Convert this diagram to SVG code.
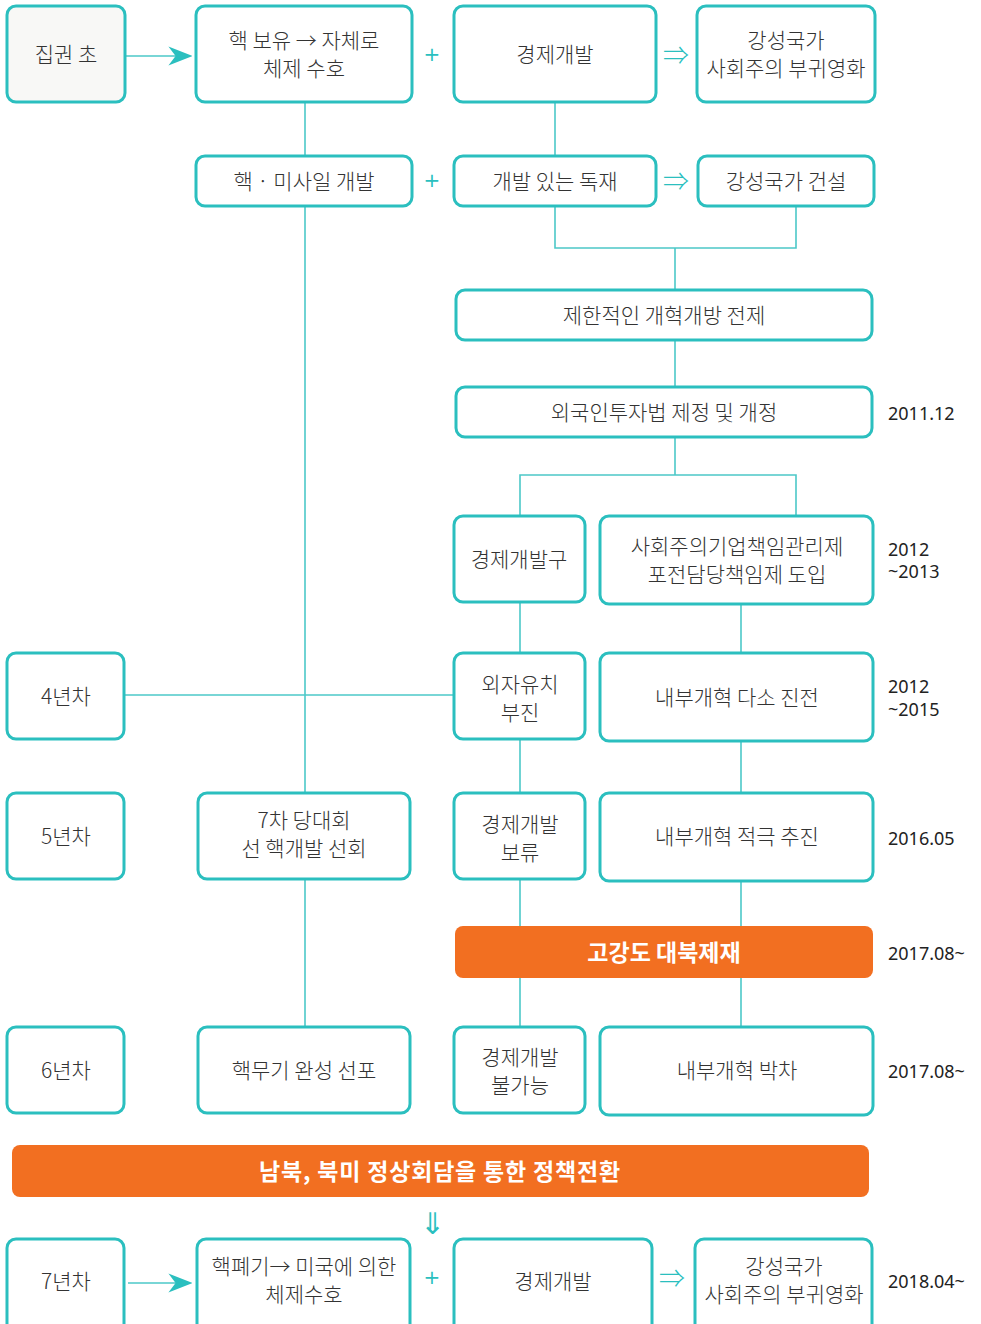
<svg xmlns="http://www.w3.org/2000/svg" width="981" height="1324" viewBox="0 0 981 1324">
<style>
.n{fill:#fff;stroke:#2bbfbf;stroke-width:3}
.o{fill:#f26f21}
.t{font-family:"Noto Sans CJK KR","Noto Sans",sans-serif;font-size:21px;font-weight:300;fill:#333;text-anchor:middle;dominant-baseline:central}
.w{font-family:"Noto Sans CJK KR","Noto Sans",sans-serif;font-size:23px;font-weight:bold;fill:#fff;text-anchor:middle;dominant-baseline:central}
.d{font-family:"Noto Sans","DejaVu Sans",sans-serif;font-size:18px;fill:#222;dominant-baseline:central}
.s{font-family:"DejaVu Sans",sans-serif;font-size:20px;fill:#2bbfbf;text-anchor:middle;dominant-baseline:central}
.a{font-family:"Noto Sans CJK KR","DejaVu Sans",sans-serif;font-size:26px;font-weight:300;fill:#2bbfbf;text-anchor:middle;dominant-baseline:central}
.c{stroke:#4cc8c8;stroke-width:1.6;fill:none}
</style>
<defs>
<marker id="ah" viewBox="0 0 10 10" refX="9" refY="5" markerWidth="24" markerHeight="24" markerUnits="userSpaceOnUse" orient="auto">
<path d="M0,1 L10,5 L0,9 L3,5 Z" fill="#2bbfbf"/>
</marker>
</defs>
<g id="connectors">
<line class="c" x1="125" y1="56" x2="190" y2="56" marker-end="url(#ah)"/>
<line class="c" x1="305" y1="102" x2="305" y2="155"/>
<line class="c" x1="555" y1="102" x2="555" y2="155"/>
<polyline class="c" points="555,206 555,248 796,248 796,206"/>
<line class="c" x1="675" y1="248" x2="675" y2="290"/>
<line class="c" x1="675" y1="340" x2="675" y2="387"/>
<line class="c" x1="675" y1="437" x2="675" y2="475"/>
<polyline class="c" points="520,516 520,475 796,475 796,516"/>
<line class="c" x1="520" y1="602" x2="520" y2="653"/>
<line class="c" x1="741" y1="604" x2="741" y2="653"/>
<line class="c" x1="305" y1="206" x2="305" y2="793"/>
<line class="c" x1="124" y1="695" x2="454" y2="695"/>
<line class="c" x1="520" y1="739" x2="520" y2="793"/>
<line class="c" x1="741" y1="741" x2="741" y2="793"/>
<line class="c" x1="520" y1="879" x2="520" y2="926"/>
<line class="c" x1="741" y1="881" x2="741" y2="926"/>
<line class="c" x1="520" y1="978" x2="520" y2="1027"/>
<line class="c" x1="741" y1="978" x2="741" y2="1027"/>
<line class="c" x1="305" y1="879" x2="305" y2="1027"/>
<line class="c" x1="128" y1="1283" x2="190" y2="1283" marker-end="url(#ah)"/>
</g>
<g id="symbols">
<text class="s" x="432" y="54">+</text>
<text class="s" x="432" y="180">+</text>
<text class="s" x="432" y="1277">+</text>
<text class="a" x="676" y="53">⇒</text>
<text class="a" x="676" y="179">⇒</text>
<text class="a" x="672" y="1276">⇒</text>
<text class="a" x="432" y="1221" style="font-size:30px">⇓</text>
</g>
<g id="n1"><rect x="7" y="6" width="118" height="96" rx="9" class="n" style="fill:#f8f8f6"/><text class="t" x="66" y="53">집권 초</text></g>
<g id="n2"><rect x="196" y="6" width="216" height="96" rx="9" class="n"/><text class="t" x="304" y="39">핵 보유 → 자체로</text><text class="t" x="304" y="67">체제 수호</text></g>
<g id="n3"><rect x="454" y="6" width="202" height="96" rx="9" class="n"/><text class="t" x="555" y="53">경제개발</text></g>
<g id="n4"><rect x="697" y="6" width="178" height="96" rx="9" class="n"/><text class="t" x="786" y="39">강성국가</text><text class="t" x="786" y="67">사회주의 부귀영화</text></g>
<g id="n5"><rect x="196" y="156" width="216" height="50" rx="9" class="n"/><text class="t" x="304" y="180">핵 · 미사일 개발</text></g>
<g id="n6"><rect x="454" y="156" width="202" height="50" rx="9" class="n"/><text class="t" x="555" y="180">개발 있는 독재</text></g>
<g id="n7"><rect x="698" y="156" width="176" height="50" rx="9" class="n"/><text class="t" x="786" y="180">강성국가 건설</text></g>
<g id="n8"><rect x="456" y="290" width="416" height="50" rx="9" class="n"/><text class="t" x="664" y="314">제한적인 개혁개방 전제</text></g>
<g id="n9"><rect x="456" y="387" width="416" height="50" rx="9" class="n"/><text class="t" x="664" y="411">외국인투자법 제정 및 개정</text><text class="d" x="888" y="413">2011.12</text></g>
<g id="n10"><rect x="454" y="516" width="131" height="86" rx="9" class="n"/><text class="t" x="519" y="558">경제개발구</text></g>
<g id="n11"><rect x="600" y="516" width="273" height="88" rx="9" class="n"/><text class="t" x="737" y="545">사회주의기업책임관리제</text><text class="t" x="737" y="573">포전담당책임제 도입</text><text class="d" x="888" y="549">2012</text><text class="d" x="888" y="571">~2013</text></g>
<g id="n12"><rect x="7" y="653" width="117" height="86" rx="9" class="n"/><text class="t" x="66" y="695">4년차</text></g>
<g id="n13"><rect x="454" y="653" width="131" height="86" rx="9" class="n"/><text class="t" x="520" y="683">외자유치</text><text class="t" x="520" y="711">부진</text></g>
<g id="n14"><rect x="600" y="653" width="273" height="88" rx="9" class="n"/><text class="t" x="737" y="696">내부개혁 다소 진전</text><text class="d" x="888" y="686">2012</text><text class="d" x="888" y="709">~2015</text></g>
<g id="n15"><rect x="7" y="793" width="117" height="86" rx="9" class="n"/><text class="t" x="66" y="835">5년차</text></g>
<g id="n16"><rect x="198" y="793" width="212" height="86" rx="9" class="n"/><text class="t" x="304" y="819">7차 당대회</text><text class="t" x="304" y="847">선 핵개발 선회</text></g>
<g id="n17"><rect x="454" y="793" width="131" height="86" rx="9" class="n"/><text class="t" x="520" y="823">경제개발</text><text class="t" x="520" y="851">보류</text></g>
<g id="n18"><rect x="600" y="793" width="273" height="88" rx="9" class="n"/><text class="t" x="737" y="835">내부개혁 적극 추진</text><text class="d" x="888" y="838">2016.05</text></g>
<g id="n19"><rect x="455" y="926" width="418" height="52" rx="8" class="o"/><text class="w" x="664" y="951">고강도 대북제재</text><text class="d" x="888" y="953">2017.08~</text></g>
<g id="n20"><rect x="7" y="1027" width="117" height="86" rx="9" class="n"/><text class="t" x="66" y="1069">6년차</text></g>
<g id="n21"><rect x="198" y="1027" width="212" height="86" rx="9" class="n"/><text class="t" x="304" y="1069">핵무기 완성 선포</text></g>
<g id="n22"><rect x="454" y="1027" width="131" height="86" rx="9" class="n"/><text class="t" x="520" y="1056">경제개발</text><text class="t" x="520" y="1084">불가능</text></g>
<g id="n23"><rect x="600" y="1027" width="273" height="88" rx="9" class="n"/><text class="t" x="737" y="1069">내부개혁 박차</text><text class="d" x="888" y="1071">2017.08~</text></g>
<g id="n24"><rect x="12" y="1145" width="857" height="52" rx="8" class="o"/><text class="w" x="440" y="1170" style="letter-spacing:0.8px">남북, 북미 정상회담을 통한 정책전환</text></g>
<g id="n25"><rect x="7" y="1239" width="117" height="100" rx="9" class="n"/><text class="t" x="66" y="1280">7년차</text></g>
<g id="n26"><rect x="197" y="1239" width="213" height="100" rx="9" class="n"/><text class="t" x="304" y="1265">핵폐기→ 미국에 의한</text><text class="t" x="304" y="1293">체제수호</text></g>
<g id="n27"><rect x="454" y="1239" width="198" height="100" rx="9" class="n"/><text class="t" x="553" y="1280">경제개발</text></g>
<g id="n28"><rect x="695" y="1239" width="177" height="100" rx="9" class="n"/><text class="t" x="784" y="1265">강성국가</text><text class="t" x="784" y="1293">사회주의 부귀영화</text><text class="d" x="888" y="1281">2018.04~</text></g>
</svg>
